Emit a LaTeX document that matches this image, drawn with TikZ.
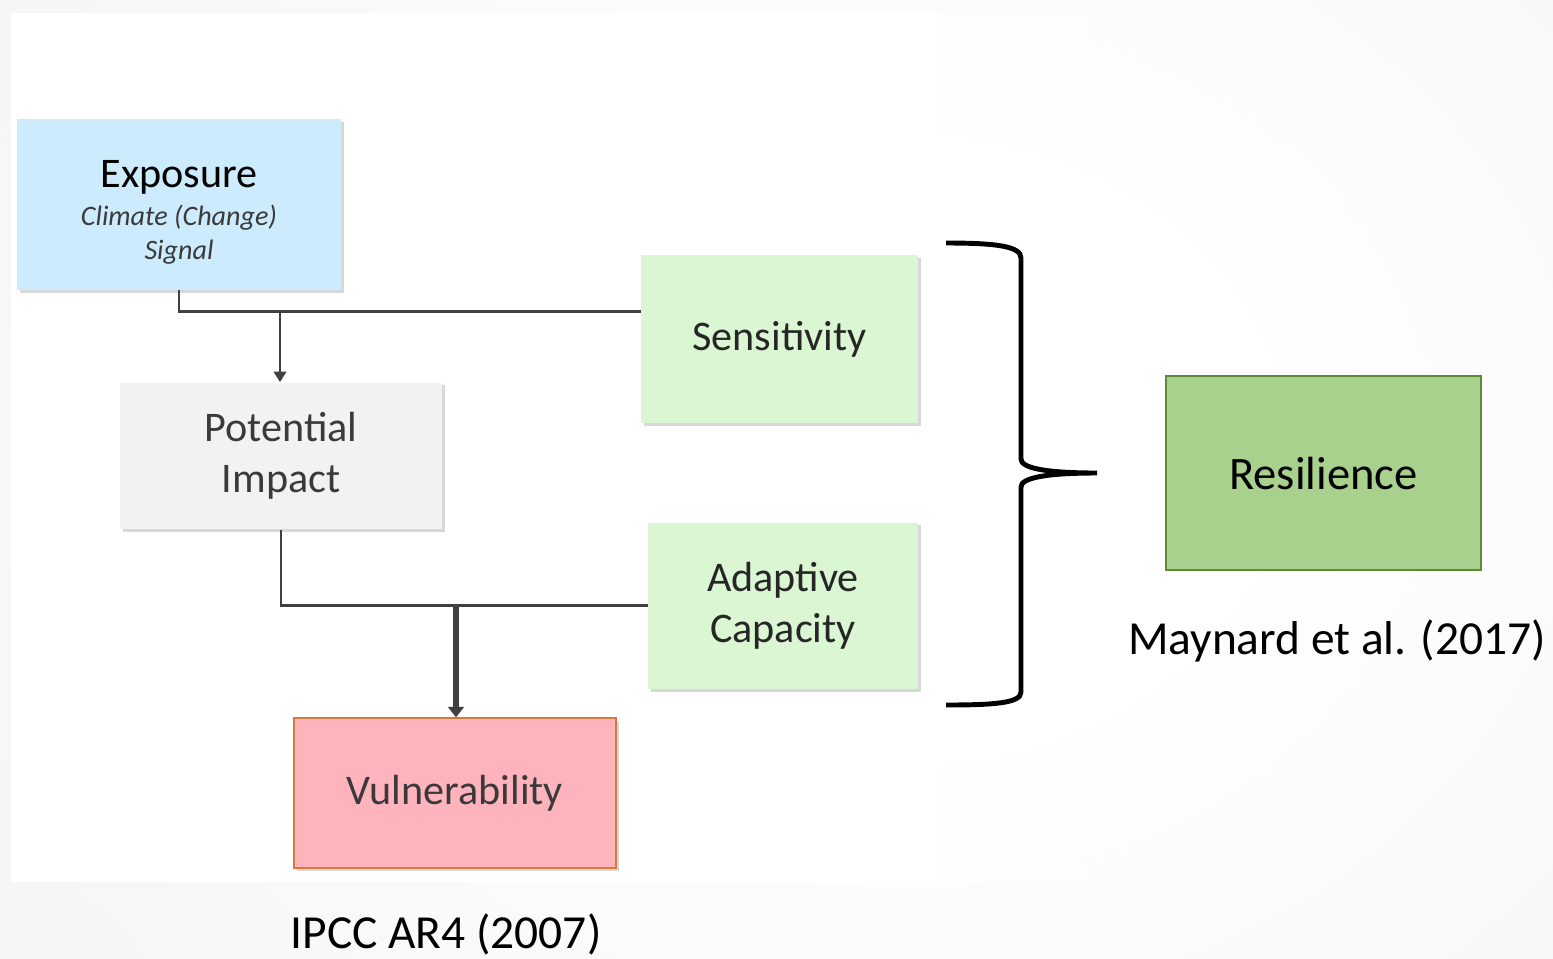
\documentclass[tikz,border=0pt]{standalone}
\usepackage{fontspec}
\setmainfont{Carlito}
\usetikzlibrary{arrows.meta,shadows,fadings}
\definecolor{expblue}{HTML}{CCEBFC}
\definecolor{potgray}{HTML}{F2F2F2}
\definecolor{sensgreen}{HTML}{DAF6D2}
\definecolor{vulpink}{HTML}{FFB3BD}
\definecolor{vulline}{HTML}{D47A3C}
\definecolor{resgreen}{HTML}{A9D18E}
\definecolor{resline}{HTML}{5B8C35}
\definecolor{linegray}{HTML}{404040}
\definecolor{txtgray}{HTML}{3A3A3A}
\pgfdeclareradialshading{slidebg}{\pgfpoint{0bp}{0bp}}{color(0bp)=(white); color(8bp)=(white); color(25bp)=(gray!8); color(50bp)=(gray!8)}
\newcommand{\subtxt}[1]{{\fontsize{16}{19}\selectfont\itshape\color{txtgray}#1}}
\begin{document}
\begin{tikzpicture}[x=0.02cm, y=-0.02cm,
   box/.style={rectangle, inner sep=0pt, align=center,
      font=\fontsize{24}{29}\selectfont,
      drop shadow={shadow xshift=1.5pt, shadow yshift=-1.5pt, opacity=0.3}},
   conn/.style={draw=linegray, line width=1.7pt},
   big/.style={font=\fontsize{27}{32}\selectfont}]
   \useasboundingbox (0,0) rectangle (1553,958);
   \begin{scope}
      \clip (0,0) rectangle (1553,958);
      \shade[shading=slidebg] (-200,-450) rectangle (2000,1350);
   \end{scope}
   \fill[white] (11,13) rectangle (940,882);
   \fill[white, path fading=east] (939,13) rectangle (1150,882);
   \node[box, fill=expblue, minimum width=6.48cm, minimum height=3.42cm] (expo) at (179,204.5)
      {\rule{0pt}{24pt}Exposure\\[-7pt]\subtxt{Climate (Change)}\\[-10pt]\subtxt{Signal}};
   \node[box, fill=potgray, text=txtgray, minimum width=6.44cm, minimum height=2.94cm] (pot) at (281,456)
      {Potential\\Impact};
   \node[box, fill=sensgreen, text=black!85, minimum width=5.54cm, minimum height=3.36cm] (sens) at (779.5,339)
      {Sensitivity};
   \node[box, fill=sensgreen, text=black!85, minimum width=5.4cm, minimum height=3.34cm] (adap) at (783,606)
      {Adaptive\\Capacity};
   \node[box, fill=vulpink, draw=vulline, line width=0.8pt, text=txtgray, minimum width=6.44cm, minimum height=3cm] (vul) at (455,793)
      {Vulnerability};
   \node[rectangle, fill=resgreen, draw=resline, line width=0.9pt, minimum width=6.3cm, minimum height=3.88cm,
      font=\fontsize{26.5}{32}\selectfont] (res) at (1323.5,473) {Resilience};
   \node[big] (may) at (1337,641) {Maynard et al. (2017)};
   \node[big] (ipcc) at (446,934) {IPCC AR4 (2007)};
   \coordinate (j1) at (280,311);
   \coordinate (j2) at (456,605);
   \draw[conn] (expo.south) |- (j1) -- (j1 -| sens.west);
   \draw[conn, -{Triangle[width=7pt, length=6pt]}] (j1) -- (j1 |- pot.north);
   \draw[conn] (pot.south) |- (j2) -- (j2 -| adap.west);
   \draw[conn, line width=3.2pt, -{Triangle[width=9pt, length=6pt]}] (j2) -- (j2 |- vul.north);
   \draw[line width=2.8pt] (946,243) .. controls (995,243) and (1021,246) .. (1021,258) -- (1021,459)
      .. controls (1021,468) and (1045,473) .. (1097,473)
      .. controls (1045,473) and (1021,478) .. (1021,487) -- (1021,692)
      .. controls (1021,703) and (995,705) .. (946,705);
\end{tikzpicture}
\end{document}
